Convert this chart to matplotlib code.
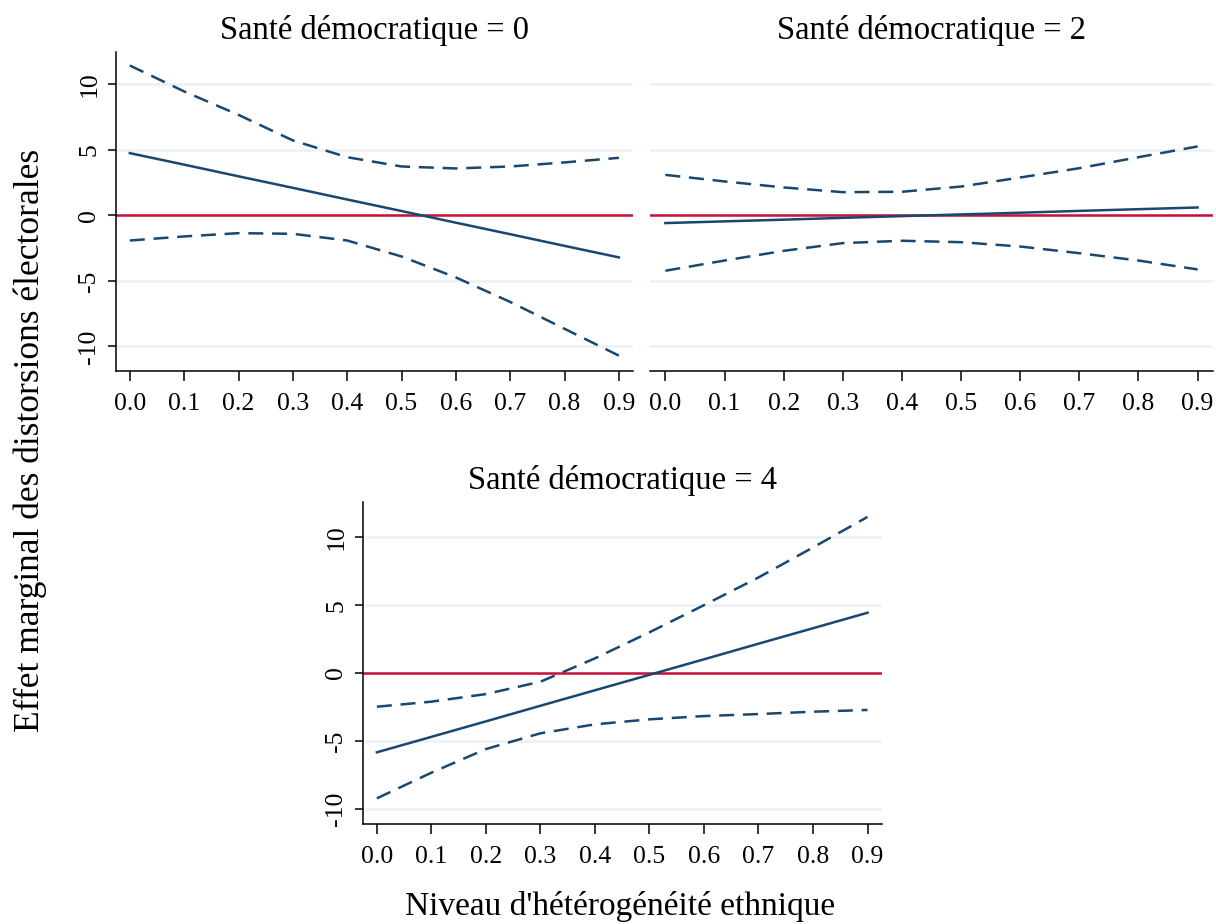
import matplotlib
matplotlib.use("Agg")
import matplotlib.pyplot as plt
import numpy as np

# ---- data ----
x_vals = [0.0, 0.1, 0.2, 0.3, 0.4, 0.5, 0.6, 0.7, 0.8, 0.9]
panel_titles = ["Santé démocratique = 0", "Santé démocratique = 2", "Santé démocratique = 4"]

effect_0 = [4.76, 3.88, 2.99, 2.11, 1.22, 0.34, -0.55, -1.43, -2.32, -3.20]
upper_0 = [11.45, 9.47, 7.68, 5.73, 4.45, 3.74, 3.59, 3.74, 4.05, 4.40]
lower_0 = [-1.91, -1.60, -1.35, -1.40, -1.91, -3.13, -4.73, -6.60, -8.65, -10.70]

effect_2 = [-0.58, -0.45, -0.32, -0.18, -0.05, 0.08, 0.21, 0.35, 0.48, 0.61]
upper_2 = [3.10, 2.60, 2.14, 1.78, 1.81, 2.21, 2.90, 3.61, 4.45, 5.27]
lower_2 = [-4.22, -3.44, -2.70, -2.11, -1.93, -2.04, -2.37, -2.88, -3.44, -4.12]

effect_4 = [-5.84, -4.70, -3.56, -2.41, -1.27, -0.13, 1.01, 2.16, 3.30, 4.44]
upper_4 = [-2.48, -2.11, -1.55, -0.64, 1.08, 3.00, 5.00, 7.04, 9.25, 11.50]
lower_4 = [-9.23, -7.34, -5.60, -4.44, -3.78, -3.41, -3.17, -3.02, -2.85, -2.72]

y_ticks = [-10, -5, 0, 5, 10]
y_ticklabels = ["-10", "-5", "0", "5", "10"]
x_ticklabels = ["0.0", "0.1", "0.2", "0.3", "0.4", "0.5", "0.6", "0.7", "0.8", "0.9"]

ylabel = "Effet marginal des distorsions électorales"
xlabel = "Niveau d'hétérogénéité ethnique"

# ---- style ----
plt.rcParams['font.family'] = ['Liberation Serif', 'DejaVu Serif']
NAVY = '#1a476f'
RED = '#C8103A'
GRID = '#EAF1F4'

W, H = 1216, 924
fig = plt.figure(figsize=(W / 100, H / 100), dpi=100)


def rect(l, r, t, b):
    return [l / W, 1 - b / H, (r - l) / W, (b - t) / H]


axes_specs = [
    (rect(115.7, 633, 52, 370.7), (-11.85, 12.48), True),
    (rect(650, 1213, 52, 370.7), (-11.85, 12.48), False),
    (rect(362.7, 881.7, 501.7, 824), (-11.12, 12.62), True),
]
series = [(effect_0, upper_0, lower_0), (effect_2, upper_2, lower_2), (effect_4, upper_4, lower_4)]

for (r, ylim, show_y), (eff, up, lo), title in zip(axes_specs, series, panel_titles):
    ax = fig.add_axes(r)
    ax.set_xlim(-0.026, 0.926)
    ax.set_ylim(*ylim)
    for yv in y_ticks:
        ax.axhline(yv, color=GRID, lw=1.8, zorder=0)
    ax.axhline(0, color=RED, lw=1.8, zorder=2)
    ax.plot(x_vals, eff, color=NAVY, lw=1.8, zorder=3)
    ax.plot(x_vals, up, color=NAVY, lw=1.8, dashes=(6, 3.5), zorder=3)
    ax.plot(x_vals, lo, color=NAVY, lw=1.8, dashes=(6, 3.5), zorder=3)

    ax.spines['top'].set_visible(False)
    ax.spines['right'].set_visible(False)
    ax.spines['bottom'].set_linewidth(1.1)
    ax.spines['left'].set_linewidth(1.1)
    ax.set_xticks(x_vals)
    ax.set_xticklabels(x_ticklabels, fontsize=18.5)
    ax.tick_params(axis='x', length=7, width=1.1, pad=9, colors='black')
    if show_y:
        ax.set_yticks(y_ticks)
        ax.set_yticklabels(y_ticklabels, fontsize=18.5, rotation=90, va='center')
        ax.tick_params(axis='y', length=6, width=1.1, pad=5)
    else:
        ax.spines['left'].set_visible(False)
        ax.set_yticks([])
    ax.set_title(title, fontsize=23.5, pad=9)

fig.text(30 / W, 1 - 440 / H, ylabel, rotation=90, fontsize=25.5, ha='center', va='center')
fig.text(620 / W, 1 - 906 / H, xlabel, fontsize=24, ha='center', va='center')

fig.savefig("out.png", dpi=100, facecolor='white')
